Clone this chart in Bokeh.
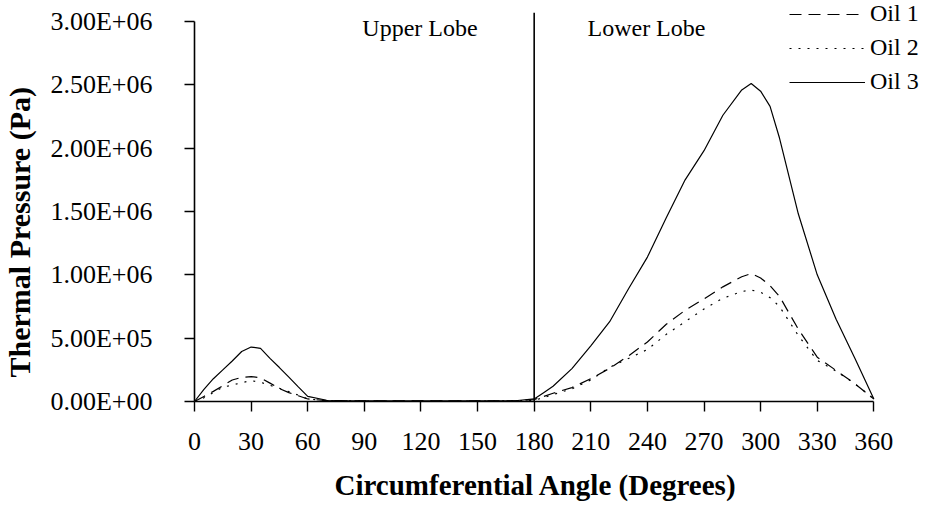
from bokeh.plotting import figure
from bokeh.models import Range1d, Legend, LegendItem, Label, FixedTicker, Title
from bokeh.embed import file_html
from bokeh.resources import INLINE

# ---- data ----
angles = [0, 5, 10, 15, 20, 25, 30, 35, 40, 45, 50, 55, 60,
          70, 80, 90, 100, 110, 120, 130, 140, 150, 160, 170,
          180, 185, 190, 200, 210, 220, 230, 240, 250, 260, 270, 280, 290,
          295, 300, 305, 310, 320, 330, 340, 350, 360]

oil1 = [0, 40e3, 80e3, 125e3, 170e3, 190e3, 197e3, 187e3, 145e3, 102e3, 70e3, 45e3, 20e3,
        7e3, 6e3, 5e3, 5e3, 5e3, 5e3, 5e3, 5e3, 5e3, 5e3, 6e3,
        15e3, 40e3, 65e3, 110e3, 180e3, 262e3, 360e3, 470e3, 610e3, 720e3, 810e3, 905e3, 985e3,
        1.01e6, 975e3, 915e3, 830e3, 570e3, 350e3, 245e3, 140e3, 20e3]

oil2 = [0, 30e3, 70e3, 113e3, 130e3, 148e3, 165e3, 152e3, 128e3, 105e3, 78e3, 50e3, 20e3,
        6e3, 5e3, 4e3, 4e3, 4e3, 4e3, 4e3, 4e3, 4e3, 4e3, 5e3,
        10e3, 30e3, 55e3, 100e3, 170e3, 270e3, 340e3, 410e3, 530e3, 630e3, 730e3, 815e3, 868e3,
        880e3, 863e3, 820e3, 750e3, 520e3, 324e3, 240e3, 140e3, 20e3]

oil3 = [0, 95e3, 180e3, 250e3, 320e3, 395e3, 430e3, 420e3, 340e3, 268e3, 192e3, 115e3, 40e3,
        10e3, 6e3, 5e3, 5e3, 5e3, 5e3, 5e3, 5e3, 5e3, 5e3, 6e3,
        20e3, 70e3, 120e3, 260e3, 440e3, 630e3, 890e3, 1.14e6, 1.45e6, 1.75e6, 1.98e6, 2.26e6, 2.46e6,
        2.51e6, 2.45e6, 2.33e6, 2.08e6, 1.48e6, 1.0e6, 650e3, 340e3, 20e3]

series_names = ["Oil 1", "Oil 2", "Oil 3"]

x_ticks = [0, 30, 60, 90, 120, 150, 180, 210, 240, 270, 300, 330, 360]
y_ticks = [0, 5e5, 1e6, 1.5e6, 2e6, 2.5e6, 3e6]
y_tick_labels = ["0.00E+00", "5.00E+05", "1.00E+06", "1.50E+06", "2.00E+06", "2.50E+06", "3.00E+06"]

lobe_boundary = [180, 180]
lobe_boundary_y = [0, 3.07e6]
lobe_labels = ["Upper Lobe", "Lower Lobe"]
lobe_label_x = [119.5, 239.5]
lobe_label_y = 2.95e6

FONT = "Liberation Serif"

p = figure(width=926, height=508, output_backend="svg", toolbar_location=None,
           x_range=Range1d(0, 387.9), y_range=Range1d(0, 3.1658e6),
           min_border_left=192, min_border_right=0, min_border_top=0, min_border_bottom=107)

p.outline_line_color = None
p.xgrid.grid_line_color = None
p.ygrid.grid_line_color = None
p.background_fill_color = "white"

r1 = p.line(angles, oil1, line_color="black", line_width=1.2, line_dash="12 7")
r2 = p.line(angles, oil2, line_color="black", line_width=1.2, line_dash="2 7")
r3 = p.line(angles, oil3, line_color="black", line_width=1.2)

p.line(lobe_boundary, lobe_boundary_y, line_color="black", line_width=1.6)

for txt, lx in zip(lobe_labels, lobe_label_x):
    p.add_layout(Label(x=lx, y=lobe_label_y, text=txt, text_align="center",
                       text_baseline="middle", text_font=FONT, text_font_size="24px",
                       text_color="black"))

# axes
p.xaxis.ticker = FixedTicker(ticks=x_ticks)
p.yaxis.ticker = FixedTicker(ticks=y_ticks)
p.yaxis.major_label_overrides = {t: l for t, l in zip(y_ticks, y_tick_labels)}
p.yaxis.bounds = (0, 3e6)
p.xaxis.bounds = (0, 360)

for ax in (p.xaxis[0], p.yaxis[0]):
    ax.axis_line_color = "black"
    ax.axis_line_width = 1.6
    ax.major_tick_line_color = "black"
    ax.major_tick_line_width = 1.4
    ax.major_tick_in = 0
    ax.major_tick_out = 10
    ax.minor_tick_line_color = None
    ax.major_label_text_font = FONT
    ax.major_label_text_font_size = "26px"
    ax.major_label_text_color = "black"
p.yaxis.major_label_standoff = 32
p.xaxis.major_label_standoff = 21

# axis titles (placed as titles so they can be centred on the 0-360 span)
p.add_layout(Title(text=" ", text_font_size="11px", standoff=0), "below")
xt = Title(text="Circumferential Angle (Degrees)", align="left", offset=140,
           vertical_align="bottom", standoff=0,
           text_font=FONT, text_font_size="29px", text_font_style="bold", text_color="black")
p.add_layout(xt, "below")

p.add_layout(Title(text=" ", text_font_size="9px", standoff=0), "left")
yt = Title(text="Thermal Pressure (Pa)", align="left", offset=24,
           vertical_align="bottom", standoff=0,
           text_font=FONT, text_font_size="30px", text_font_style="bold", text_color="black")
p.add_layout(yt, "left")

legend = Legend(items=[LegendItem(label=n, renderers=[r]) for n, r in zip(series_names, [r1, r2, r3])],
                location=(595, 306), glyph_width=76, glyph_height=26, label_height=26,
                label_standoff=5, spacing=7, padding=0, margin=0,
                border_line_color=None, background_fill_alpha=0,
                label_text_font=FONT, label_text_font_size="24px", label_text_color="black")
p.add_layout(legend)

open("out.html", "w").write(file_html(p, INLINE))
